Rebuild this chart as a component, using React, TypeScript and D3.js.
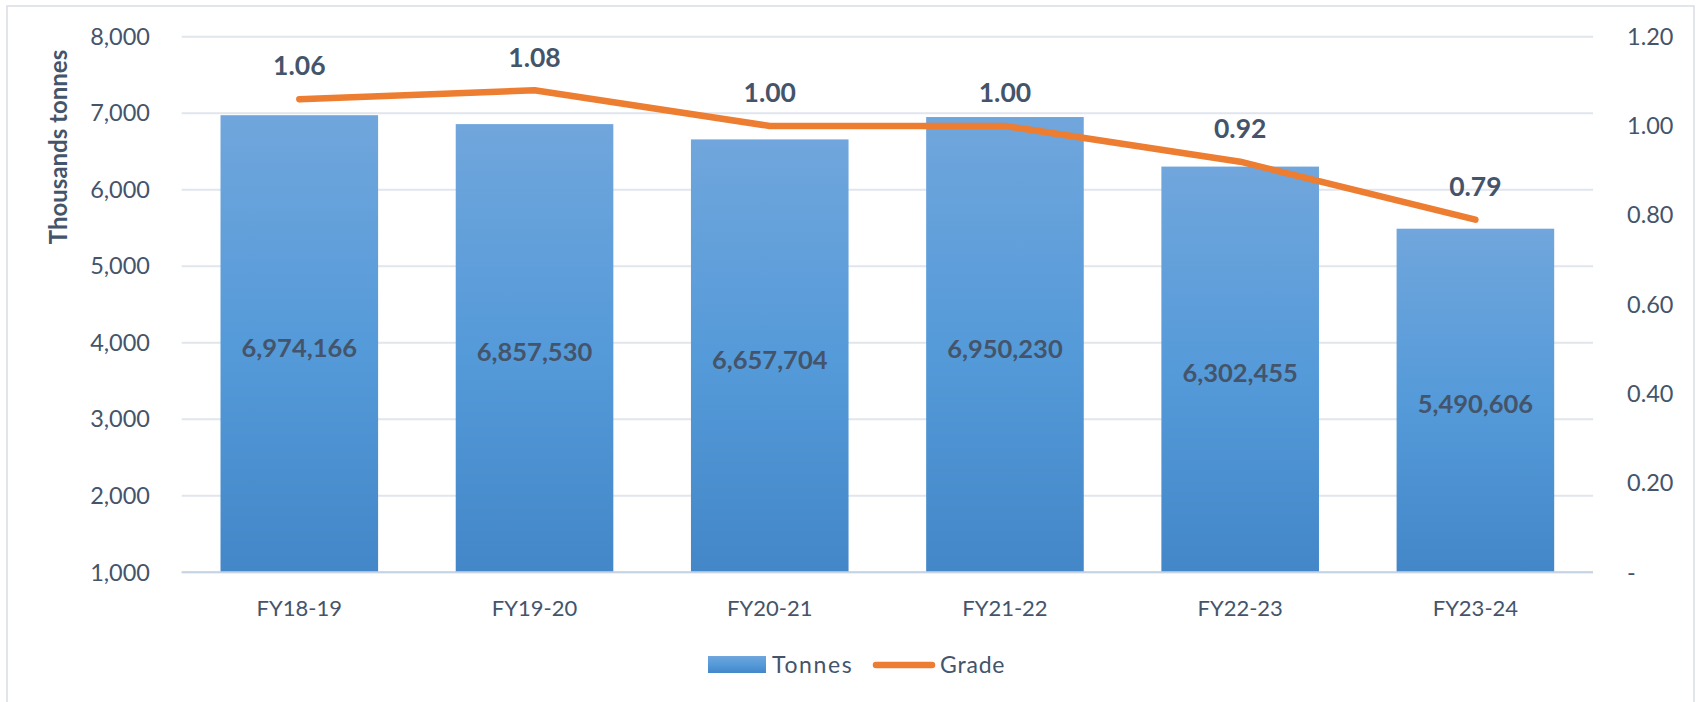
import React from "react";
import * as d3 from "d3";

const categories = ["FY18-19", "FY19-20", "FY20-21", "FY21-22", "FY22-23", "FY23-24"];
const tonnes = [6974166, 6857530, 6657704, 6950230, 6302455, 5490606];
const grade = [1.06, 1.08, 1.0, 1.0, 0.92, 0.79];
const leftTicks = [1000, 2000, 3000, 4000, 5000, 6000, 7000, 8000];
const rightTicks = [0, 0.2, 0.4, 0.6, 0.8, 1.0, 1.2];

const W = 1698;
const H = 702;
const TEXT = "#44546A";
const FONT = "Lato, 'Open Sans', sans-serif";

export default function App() {
  const x = d3.scaleBand<string>().domain(categories).range([181.7, 1593]).paddingInner(0.33).paddingOuter(0.165);
  const yL = d3.scaleLinear().domain([1000, 8000]).range([572.3, 36.7]);
  const yR = d3.scaleLinear().domain([0, 1.2]).range([572.3, 36.7]);
  const fmtL = d3.format(",");
  const fmtR = (v: number) => (v === 0 ? "-" : d3.format(".2f")(v));
  const cx = (c: string) => (x(c) as number) + x.bandwidth() / 2;
  const line = d3
    .line<number>()
    .x((_, i) => cx(categories[i]))
    .y((d) => yR(d));

  return (
    <svg width={W} height={H} style={{ position: "absolute", left: 0, top: 0, background: "#fff" }} fontFamily={FONT}>
      <defs>
        <linearGradient id="barGrad" x1="0" y1="0" x2="0" y2="1">
          <stop offset="0" stopColor="#70A6DC" />
          <stop offset="0.5" stopColor="#559AD9" />
          <stop offset="1" stopColor="#4387C8" />
        </linearGradient>
      </defs>
      <rect x={7} y={6} width={1687} height={720} fill="#fff" stroke="#D9DDE3" strokeWidth={1.5} />
      {leftTicks.map((t) => (
        <line key={t} x1={181.7} x2={1593} y1={yL(t)} y2={yL(t)} stroke="#E1E5EC" strokeWidth={2} />
      ))}
      {leftTicks.map((t) => (
        <text key={t} x={150} y={yL(t)} dy="0.35em" textAnchor="end" fontSize={23.5} fill={TEXT}>
          {fmtL(t)}
        </text>
      ))}
      {rightTicks.map((t) => (
        <text key={t} x={1627} y={yR(t)} dy="0.35em" textAnchor="start" fontSize={23.5} fill={TEXT}>
          {fmtR(t)}
        </text>
      ))}
      <text
        transform={`translate(59,147) rotate(-90)`}
        textAnchor="middle"
        dy="0.35em"
        fontSize={24}
        fontWeight="bold"
        fill={TEXT}
      >
        Thousands tonnes
      </text>
      {categories.map((c, i) => (
        <rect
          key={c}
          x={x(c)}
          y={yL(tonnes[i] / 1000)}
          width={x.bandwidth()}
          height={yL(1000) - yL(tonnes[i] / 1000)}
          fill="url(#barGrad)"
        />
      ))}
      <line x1={181.7} x2={1593} y1={yL(1000)} y2={yL(1000)} stroke="#C5D3E3" strokeWidth={2} />
      {categories.map((c, i) => (
        <text
          key={c}
          x={cx(c)}
          y={(yL(tonnes[i] / 1000) + yL(1000)) / 2 + 4}
          dy="0.35em"
          textAnchor="middle"
          fontSize={25.5}
          fontWeight="bold"
          fill={TEXT}
        >
          {fmtL(tonnes[i])}
        </text>
      ))}
      <path d={line(grade) as string} fill="none" stroke="#ED7D31" strokeWidth={6.5} strokeLinecap="round" strokeLinejoin="round" />
      {categories.map((c, i) => (
        <text key={c} x={cx(c)} y={yR(grade[i]) - 33} dy="0.35em" textAnchor="middle" fontSize={26.5} fontWeight="bold" fill={TEXT}>
          {d3.format(".2f")(grade[i])}
        </text>
      ))}
      {categories.map((c) => (
        <text key={c} x={cx(c)} y={608} dy="0.35em" textAnchor="middle" fontSize={22} fill={TEXT}>
          {c}
        </text>
      ))}
      <rect x={708} y={656} width={58} height={17} fill="url(#barGrad)" />
      <text x={772} y={665} dy="0.35em" fontSize={23} letterSpacing={1.6} fill={TEXT}>
        Tonnes
      </text>
      <line x1={876} x2={932} y1={665} y2={665} stroke="#ED7D31" strokeWidth={6.5} strokeLinecap="round" />
      <text x={940} y={665} dy="0.35em" fontSize={23} letterSpacing={0.8} fill={TEXT}>
        Grade
      </text>
    </svg>
  );
}
